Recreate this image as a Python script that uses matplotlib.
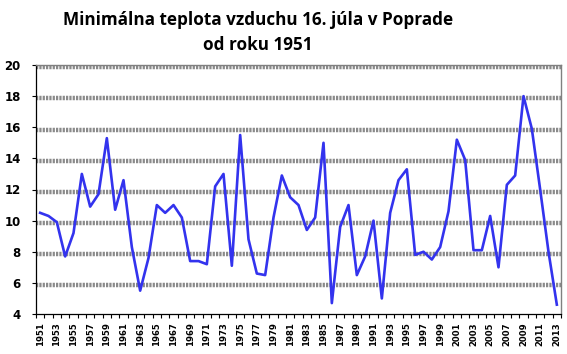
import matplotlib.pyplot as plt
import numpy as np
from matplotlib.transforms import ScaledTranslation

# Data
years = list(range(1951, 2014))
tmin = [10.5, 10.3, 9.9, 7.7, 9.2, 13.0, 10.9, 11.7, 15.3, 10.7,
        12.6, 8.3, 5.5, 7.6, 11.0, 10.5, 11.0, 10.2, 7.4, 7.4,
        7.2, 12.2, 13.0, 7.1, 15.5, 8.8, 6.6, 6.5, 10.2, 12.9,
        11.5, 11.0, 9.4, 10.2, 15.0, 4.7, 9.6, 11.0, 6.5, 7.7,
        10.0, 5.0, 10.5, 12.6, 13.3, 7.8, 8.0, 7.5, 8.3, 10.6,
        15.2, 13.9, 8.1, 8.1, 10.3, 7.0, 12.3, 12.9, 18.0, 15.9,
        12.0, 8.0, 4.6]
yticks = [4, 6, 8, 10, 12, 14, 16, 18, 20]
title = "Minimálna teplota vzduchu 16. júla v Poprade\nod roku 1951"

fig = plt.figure(figsize=(5.67, 3.54), dpi=100)
ax = fig.add_axes([36 / 567, 1 - 314 / 354, 525 / 567, 249 / 354])

x = np.arange(len(years))

# thick dotted grey gridlines (Excel style), drawn a couple of pixels low like the original
shift = ax.transData + ScaledTranslation(0, -2.3 / 100, fig.dpi_scale_trans)
for v in yticks[1:]:
    ax.plot([-0.5, len(years) - 0.5], [v, v], color="#8a8a8a", lw=3.2,
            ls=(0, (0.5, 0.25)), transform=shift, zorder=1, solid_capstyle="butt")

ax.plot(x, tmin, color="#3333ee", lw=1.9, zorder=3)

ax.set_xlim(-0.5, len(years) - 0.5)
ax.set_ylim(4, 20)
ax.set_yticks(yticks)
ax.set_yticklabels([str(v) for v in yticks], fontsize=8.5, fontweight="bold",
                   family="DejaVu Sans")

# category ticks between points, labels every other year
ax.set_xticks(np.arange(len(years) + 1) - 0.5, minor=False)
ax.set_xticklabels([])
ax.set_xticks(x[::2], minor=True)
ax.set_xticklabels([str(y) for y in years[::2]], minor=True, rotation=90,
                   fontsize=6.1, fontweight="bold", family="DejaVu Sans")
ax.tick_params(axis="x", which="major", length=3, width=0.8, direction="out")
ax.tick_params(axis="x", which="minor", length=0, pad=6)
ax.tick_params(axis="y", length=3, width=0.8, direction="out", pad=8)

for s in ("top", "right"):
    ax.spines[s].set_color("#808080")
    ax.spines[s].set_linewidth(1)
for s in ("left", "bottom"):
    ax.spines[s].set_color("black")
    ax.spines[s].set_linewidth(0.9)

fig.text(258 / 567, 0.968, title, ha="center", va="top", fontsize=12.3,
         fontweight="bold", family="Open Sans", linespacing=1.45)

fig.savefig("out.png", dpi=100)
